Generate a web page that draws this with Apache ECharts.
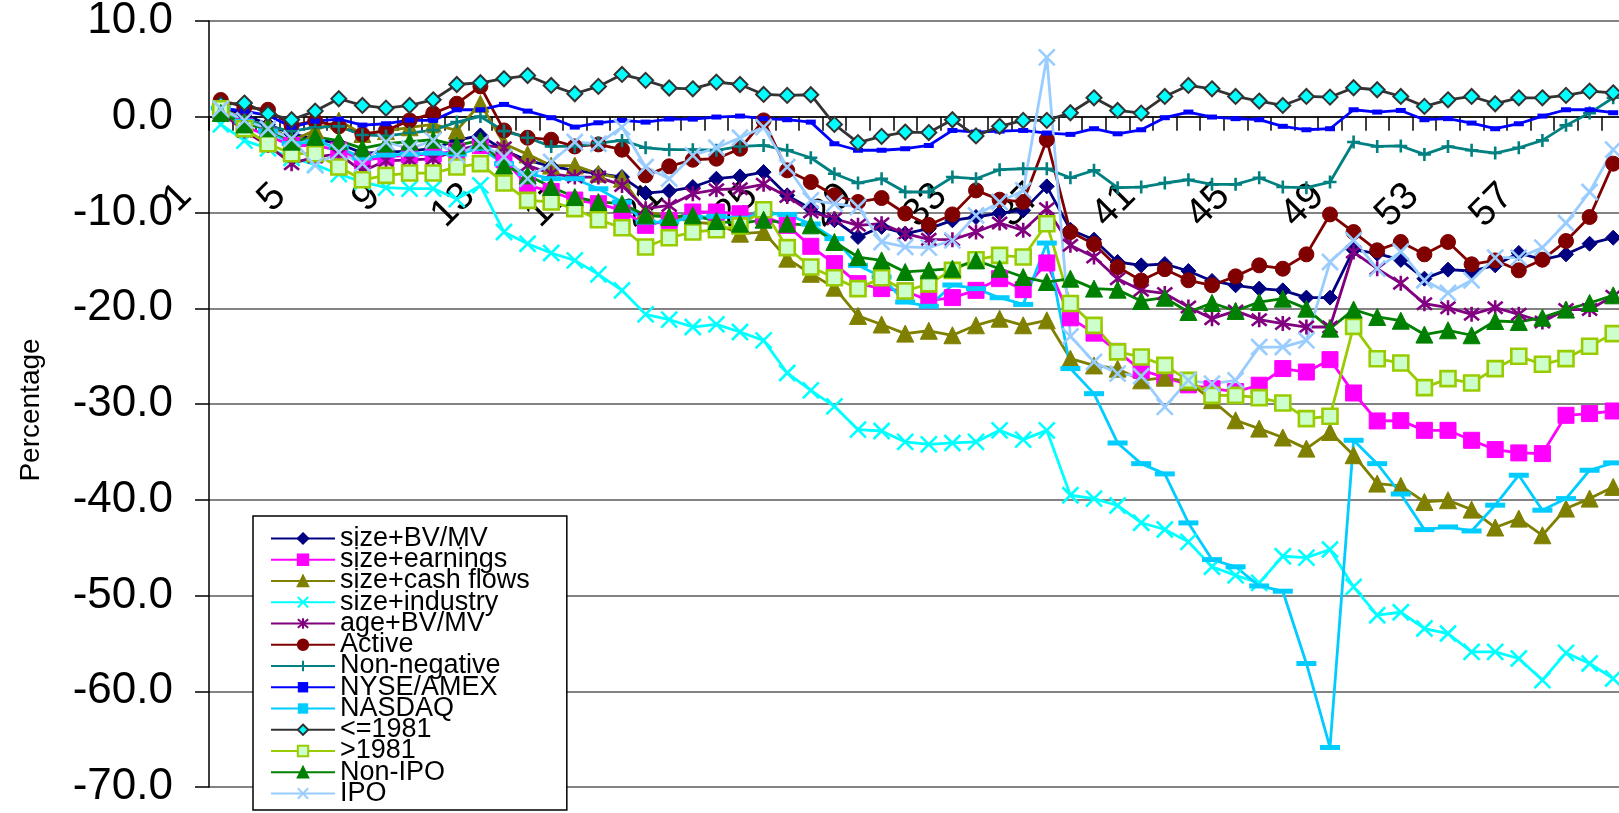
<!DOCTYPE html>
<html>
<head>
<meta charset="utf-8">
<script src="https://cdn.jsdelivr.net/npm/echarts@6/dist/echarts.min.js"></script>
<style>
  html, body { margin: 0; padding: 0; background: #ffffff; }
  #chart { width: 1619px; height: 813px; }
</style>
</head>
<body>
<div id="chart"></div>
<script>
// Month index along the category axis
const categories = ['1','2','3','4','5','6','7','8','9','10','11','12','13','14','15','16','17','18','19','20',
  '21','22','23','24','25','26','27','28','29','30','31','32','33','34','35','36','37','38','39','40',
  '41','42','43','44','45','46','47','48','49','50','51','52','53','54','55','56','57','58','59','60'];

// Percentage axis range and step
const yMin = -70;
const yMax = 10;
const yStep = 10;

const sizeBvMv = [1.0,0.2,-0.8,-1.8,-2.3,-2.8,-3.8,-3.7,-3.6,-3.3,
  -2.47,-1.95,-3.5,-4.56,-5.18,-5.6,-5.95,-6.3,-7.97,-7.76,
  -7.34,-6.47,-6.23,-5.78,-8.21,-9.6,-10.8,-12.56,-11.5,-12.2,
  -11.69,-10.82,-10.47,-10.06,-9.78,-7.27,-11.8,-12.84,-15.17,-15.52,
  -15.38,-16.11,-17.15,-17.6,-17.95,-18.13,-18.89,-18.89,-13.88,-14.3,
  -14.95,-16.91,-15.97,-16.11,-15.52,-14.23,-14.93,-14.37,-13.26,-12.63];

const sizeEarnings = [0.6,-1.0,-2.0,-3.0,-3.0,-3.5,-4.6,-4.2,-4.0,-3.9,
  -3.6,-3.0,-4.5,-7.17,-7.8,-8.7,-9.08,-9.78,-11.34,-10.82,
  -9.95,-9.95,-10.13,-10.4,-11.34,-13.53,-15.34,-17.43,-17.95,-18.2,
  -19.2,-18.89,-18.13,-16.91,-18.06,-15.27,-21.0,-22.6,-24.5,-26.48,
  -27.2,-28.0,-28.4,-28.7,-28.04,-26.3,-26.66,-25.37,-28.85,-31.77,
  -31.74,-32.75,-32.75,-33.79,-34.76,-35.11,-35.18,-31.18,-31.0,-30.73];

const sizeCashFlows = [1.0,-0.4,-0.8,-2.5,-1.4,-0.4,-1.8,-1.5,-1.1,-0.8,
  -1.43,1.36,-2.82,-3.93,-5.1,-5.1,-5.95,-6.47,-9.9,-10.4,
  -11.0,-11.2,-12.21,-12.04,-14.82,-16.4,-17.85,-20.8,-21.7,-22.65,
  -22.35,-22.82,-21.78,-21.09,-21.78,-21.26,-25.27,-25.97,-26.31,-27.53,
  -27.25,-27.7,-29.6,-31.7,-32.57,-33.5,-34.66,-32.92,-35.35,-38.31,
  -38.55,-40.23,-40.05,-41.03,-42.9,-41.97,-43.71,-40.92,-39.88,-38.66];

const sizeIndustry = [-0.8,-2.5,-3.3,-4.3,-5.0,-6.0,-6.8,-7.4,-7.5,-7.5,
  -8.6,-7.17,-12.04,-13.26,-14.23,-15.0,-16.46,-18.13,-20.64,-21.19,
  -21.96,-21.68,-22.48,-23.35,-26.76,-28.57,-30.24,-32.68,-32.82,-33.96,
  -34.21,-34.07,-33.96,-32.75,-33.72,-32.75,-39.53,-39.88,-40.6,-42.4,
  -43.11,-44.4,-47.0,-47.9,-48.68,-45.9,-46.04,-45.2,-49.1,-52.06,
  -51.75,-53.45,-53.97,-55.88,-55.88,-56.58,-58.84,-55.99,-57.1,-58.67];

const ageBvMv = [0.5,-1.5,-3.0,-4.9,-4.2,-3.9,-5.7,-4.6,-4.5,-4.4,
  -3.5,-2.9,-3.24,-5.08,-5.95,-6.3,-6.3,-7.17,-9.6,-9.26,
  -8.04,-7.62,-7.52,-7.06,-8.32,-9.95,-10.65,-11.34,-11.17,-12.21,
  -12.8,-12.84,-12.04,-11.1,-11.86,-9.6,-13.43,-14.65,-16.91,-18.13,
  -18.45,-19.87,-21.09,-20.28,-21.19,-21.6,-21.96,-21.96,-14.13,-15.87,
  -17.4,-19.52,-19.94,-20.63,-19.94,-20.63,-21.43,-20.14,-20.14,-18.75];

const active = [1.75,1.0,0.73,-0.9,-0.45,-1.0,-1.85,-1.45,-0.38,0.35,
  1.36,3.17,-1.43,-2.19,-2.4,-3.1,-2.89,-3.44,-6.12,-5.18,
  -4.49,-4.38,-3.34,-0.38,-5.6,-6.82,-8.2,-8.9,-8.49,-10.1,
  -11.3,-10.2,-7.69,-8.66,-8.9,-2.4,-12.04,-13.3,-15.7,-17.1,
  -15.92,-17.08,-17.6,-16.67,-15.52,-15.87,-14.37,-10.2,-12.04,-13.95,
  -13.08,-14.37,-13.08,-15.41,-15.0,-16.04,-14.93,-12.98,-10.47,-4.9];

const nonNegative = [0.4,-0.3,-1.0,-1.5,-1.1,-1.0,-1.9,-2.0,-1.7,-1.4,
  -0.56,0.03,-1.5,-2.19,-3.1,-3.1,-2.75,-2.47,-3.24,-3.44,
  -3.44,-3.5,-3.1,-3.0,-3.5,-4.28,-5.95,-6.92,-6.47,-7.86,
  -7.86,-6.3,-6.47,-5.53,-5.43,-5.43,-6.37,-5.6,-7.41,-7.34,
  -6.92,-6.58,-7.06,-7.06,-6.37,-7.34,-7.41,-6.82,-2.64,-3.1,
  -3.05,-3.93,-3.1,-3.5,-3.79,-3.24,-2.47,-0.9,0.38,1.98];

const nyseAmex = [0.9,0.6,0.15,-1.08,-0.45,-0.25,-0.87,-0.73,-0.35,-0.38,
  0.73,0.73,1.29,0.59,-0.1,-1.08,-0.63,-0.38,-0.56,-0.24,
  -0.25,-0.03,0.07,-0.2,-0.31,-0.56,-2.82,-3.5,-3.5,-3.34,
  -3.0,-1.43,-1.6,-1.5,-1.43,-1.7,-1.84,-1.25,-1.78,-1.36,
  -0.1,0.49,-0.03,-0.2,-0.31,-1.0,-1.36,-1.25,0.73,0.49,
  0.66,-0.31,-0.2,-0.66,-1.25,-0.73,0.07,0.73,0.73,0.42];

const nasdaq = [0.9,-0.5,-1.5,-2.8,-2.6,-3.2,-4.3,-4.0,-3.9,-3.8,
  -3.9,-3.3,-4.9,-5.95,-6.47,-6.47,-7.52,-8.9,-11.0,-11.0,
  -10.5,-10.4,-10.6,-10.1,-10.2,-11.2,-12.73,-15.52,-16.74,-19.35,
  -19.8,-17.57,-17.95,-18.9,-19.6,-13.19,-26.3,-28.92,-34.07,-36.23,
  -37.3,-42.42,-46.25,-47.0,-49.0,-49.55,-57.1,-65.87,-33.79,-36.23,
  -39.4,-43.12,-42.84,-43.26,-40.57,-37.44,-41.09,-39.88,-36.92,-36.15];

const upTo1981 = [1.3,1.43,0.31,-0.31,0.59,1.88,1.18,0.9,1.18,1.77,
  3.37,3.55,3.97,4.3,3.27,2.4,3.17,4.42,3.8,3.0,
  2.92,3.62,3.37,2.33,2.23,2.3,-0.8,-2.7,-2.05,-1.6,
  -1.65,-0.31,-2.0,-1.0,-0.38,-0.38,0.42,1.98,0.66,0.38,
  2.12,3.27,2.92,2.12,1.64,1.18,2.12,2.05,3.03,2.82,
  2.12,1.08,1.77,2.12,1.36,1.98,1.98,2.23,2.68,2.5];

const after1981 = [0.84,-1.25,-2.82,-3.86,-3.86,-5.25,-6.58,-6.12,-5.88,-5.88,
  -5.25,-4.9,-6.92,-8.73,-8.9,-9.6,-10.75,-11.59,-13.6,-12.63,
  -12.04,-11.8,-11.4,-9.71,-13.67,-15.69,-16.81,-17.95,-16.81,-18.2,
  -17.45,-16.04,-14.93,-14.48,-14.65,-11.17,-19.5,-21.79,-24.56,-25.09,
  -25.97,-27.53,-29.1,-29.1,-29.33,-29.89,-31.53,-31.28,-21.89,-25.27,
  -25.72,-28.29,-27.35,-27.81,-26.31,-25.02,-25.85,-25.26,-23.97,-22.65];

const nonIpo = [0.4,-0.8,-1.2,-2.6,-2.1,-2.5,-3.3,-2.8,-2.6,-2.4,
  -3.0,-2.47,-5.08,-6.12,-7.34,-8.39,-8.9,-9.08,-10.3,-10.47,
  -10.3,-10.89,-11.17,-10.75,-11.17,-11.34,-13.08,-14.65,-15.0,-16.21,
  -16.04,-15.87,-15.0,-15.87,-16.74,-17.26,-16.91,-17.95,-18.06,-19.24,
  -18.9,-20.39,-19.45,-20.28,-19.35,-19.0,-20.04,-22.13,-20.14,-20.91,
  -21.3,-22.75,-22.3,-22.82,-21.33,-21.43,-20.98,-20.14,-19.45,-18.65];

const ipo = [0.84,-0.38,-1.25,-2.3,-5.08,-3.69,-4.9,-2.64,-3.34,-2.47,
  -4.0,-2.82,-4.2,-6.47,-4.73,-2.64,-2.82,-1.08,-5.25,-6.47,
  -4.04,-3.24,-2.19,-1.08,-5.25,-8.73,-9.08,-9.43,-13.08,-13.6,
  -13.67,-12.91,-10.3,-8.9,-7.69,6.2,-22.93,-25.6,-26.83,-27.1,
  -30.3,-27.53,-27.88,-27.53,-24.05,-24.05,-23.35,-15.17,-12.91,-15.87,
  -14.1,-17.08,-18.4,-17.08,-14.72,-14.72,-13.67,-11.1,-7.86,-3.44];

// Stroked marker shapes
const X_MARK = 'path://M0,0L10,10M10,0L0,10';
const STAR_MARK = 'path://M1,1L9,9M9,1L1,9M5,0L5,10';
const PLUS_MARK = 'path://M5,0L5,10M0,5L10,5';

const FONT = '"Liberation Sans", Arial, sans-serif';

// name, values, line colour, marker, marker size, marker fill, marker border, border width
const seriesDefs = [
  ['size+BV/MV',      sizeBvMv,      '#000080', 'diamond',  15, '#000080', '#000080', 1],
  ['size+earnings',   sizeEarnings,  '#FF00FF', 'rect',     16, '#FF00FF', '#FF00FF', 1],
  ['size+cash flows', sizeCashFlows, '#808000', 'triangle', 17, '#808000', '#808000', 1],
  ['size+industry',   sizeIndustry,  '#00FFFF', X_MARK,     16, 'none',    '#00FFFF', 2.6],
  ['age+BV/MV',       ageBvMv,       '#800080', STAR_MARK,  15, 'none',    '#800080', 2.6],
  ['Active',          active,        '#800000', 'circle',   15, '#800000', '#800000', 1],
  ['Non-negative',    nonNegative,   '#008080', PLUS_MARK,  13, 'none',    '#008080', 2.6],
  ['NYSE/AMEX',       nyseAmex,      '#0000FF', 'rect',     [10, 5], '#0000FF', '#0000FF', 0],
  ['NASDAQ',          nasdaq,        '#00CCFF', 'rect',     [20, 5], '#00CCFF', '#00CCFF', 0],
  ['<=1981',          upTo1981,      '#333333', 'diamond',  15, '#00FFFF', '#333333', 2],
  ['>1981',           after1981,     '#99CC00', 'rect',     15, '#CCFFCC', '#99CC00', 2.6],
  ['Non-IPO',         nonIpo,        '#008000', 'triangle', 17, '#008000', '#008000', 1],
  ['IPO',             ipo,           '#99CCFF', X_MARK,     16, 'none',    '#99CCFF', 2.6]
];

const series = seriesDefs.map(d => ({
  name: d[0],
  type: 'line',
  xAxisIndex: 0,
  yAxisIndex: 0,
  data: d[1],
  symbol: d[3],
  symbolSize: d[4],
  showAllSymbol: true,
  lineStyle: { color: d[2], width: 2.8 },
  itemStyle: { color: d[5], borderColor: d[6], borderWidth: d[7] },
  emphasis: { disabled: true }
}));

// Plot box: the upper band ends exactly on the zero line, where the category axis sits
const PLOT_LEFT = 209, PLOT_TOP = 21, PLOT_W = 1416, PLOT_H = 766;
const ZERO_H = PLOT_H * (yMax - 0) / (yMax - yMin);

const chart = echarts.init(document.getElementById('chart'), null, { renderer: 'canvas' });

chart.setOption({
  animation: false,
  backgroundColor: '#ffffff',
  textStyle: { fontFamily: FONT, color: '#000' },
  grid: [
    { left: PLOT_LEFT, top: PLOT_TOP, width: PLOT_W, height: PLOT_H, containLabel: false, outerBoundsMode: 'none' },
    { left: PLOT_LEFT, top: PLOT_TOP, width: PLOT_W, height: ZERO_H, containLabel: false, outerBoundsMode: 'none' }
  ],
  xAxis: [
    { type: 'category', gridIndex: 0, data: categories, boundaryGap: true, show: false },
    {
      type: 'category',
      gridIndex: 1,
      data: categories,
      boundaryGap: true,
      position: 'bottom',
      z: 3,
      axisLine: { show: true, onZero: false, lineStyle: { color: '#000', width: 1.5 } },
      axisTick: { show: true, interval: 0, length: 14, inside: false, lineStyle: { color: '#000', width: 1.5 } },
      axisLabel: {
        show: true,
        interval: 3,
        rotate: 45,
        margin: 38,
        padding: [0, 50, 0, 0],
        fontSize: 39,
        fontFamily: FONT,
        color: '#000',
        hideOverlap: false
      },
      splitLine: { show: false }
    }
  ],
  yAxis: [
    {
      type: 'value',
      gridIndex: 0,
      min: yMin,
      max: yMax,
      interval: yStep,
      axisLine: { show: true, lineStyle: { color: '#000', width: 1.5 } },
      axisTick: { show: true, length: 14, lineStyle: { color: '#000', width: 1.5 } },
      axisLabel: {
        margin: 36,
        fontSize: 44,
        fontFamily: FONT,
        color: '#000',
        formatter: v => v.toFixed(1)
      },
      splitLine: { show: true, lineStyle: { color: '#5a5a5a', width: 1.6 } }
    },
    { type: 'value', gridIndex: 1, min: 0, max: yMax, show: false }
  ],
  legend: {
    show: true,
    orient: 'vertical',
    left: 253,
    top: 516,
    height: 296,
    padding: [9, 37, 3, 17],
    itemWidth: 64,
    itemHeight: 13,
    itemGap: -5.75,
    backgroundColor: '#ffffff',
    borderColor: '#000000',
    borderWidth: 1.5,
    borderRadius: 0,
    textStyle: { fontSize: 27, fontFamily: FONT, color: '#000' },
    data: seriesDefs.map(d => d[0])
  },
  graphic: [{
    type: 'text',
    x: 31,
    y: 410,
    rotation: Math.PI / 2,
    style: {
      text: 'Percentage',
      font: '28px ' + FONT,
      fill: '#000',
      align: 'center',
      verticalAlign: 'middle'
    }
  }],
  series: series
});
</script>
</body>
</html>
